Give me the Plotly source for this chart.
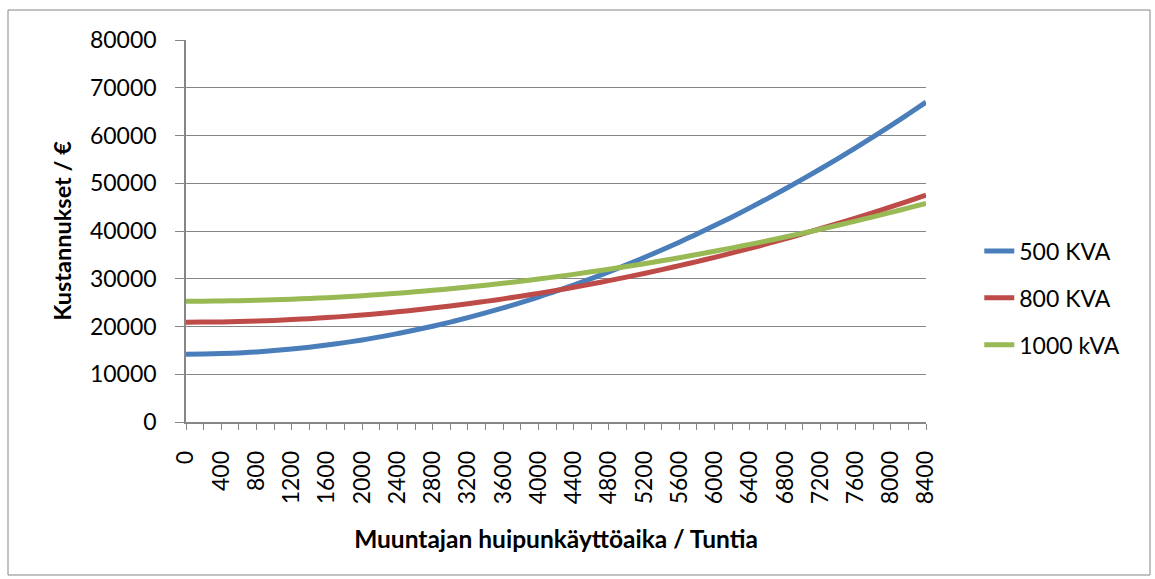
import plotly.graph_objects as go

hours = list(range(0, 8401, 200))

kva500 = [14200, 14230, 14320, 14470, 14680, 14950, 15280, 15670, 16110, 16620,
          17190, 17820, 18510, 19260, 20060, 20930, 21860, 22850, 23890, 25000,
          26170, 27390, 28680, 30030, 31430, 32900, 34430, 36010, 37660, 39360,
          41130, 42950, 44840, 46780, 48790, 50850, 52980, 55160, 57400, 59710,
          62070, 64500, 66980]
kva800 = [20900, 20920, 20960, 21040, 21140, 21280, 21440, 21640, 21870, 22120,
          22410, 22730, 23070, 23450, 23860, 24300, 24770, 25260, 25790, 26350,
          26940, 27560, 28210, 28890, 29600, 30340, 31110, 31910, 32740, 33600,
          34490, 35410, 36360, 37340, 38360, 39400, 40470, 41570, 42700, 43870,
          45060, 46280, 47540]
kva1000 = [25300, 25310, 25350, 25400, 25490, 25590, 25720, 25870, 26040, 26240,
           26460, 26710, 26970, 27260, 27580, 27910, 28270, 28660, 29060, 29490,
           29950, 30420, 30920, 31450, 31990, 32560, 33160, 33770, 34410, 35070,
           35760, 36470, 37200, 37950, 38730, 39530, 40360, 41210, 42080, 42970,
           43890, 44830, 45800]

series_names = ["500 KVA", "800 KVA", "1000 kVA"]
series_colors = ["#4A7EBB", "#BE4B48", "#98B954"]
x_tick_labels = [str(v) for v in range(0, 8401, 400)]

FONT = "Lato, 'Open Sans', sans-serif"
GRAY = "#868686"

fig = go.Figure()
for name, vals, col in zip(series_names, [kva500, kva800, kva1000], series_colors):
    fig.add_trace(go.Scatter(x=hours, y=vals, mode="lines", name=name,
                             legendgroup=name,
                             line=dict(color=col, width=5, shape="spline")))

fig.update_layout(
    width=1155, height=579,
    margin=dict(l=186, r=229, t=40, b=157),
    paper_bgcolor="white", plot_bgcolor="white",
    font=dict(family=FONT, size=23, color="black"),
    showlegend=True,
    legend=dict(x=1.072, y=(422 - 298) / 382, xanchor="left", yanchor="middle",
                font=dict(size=23), tracegroupgap=14, bgcolor="rgba(0,0,0,0)"),
    shapes=[dict(type="rect", xref="paper", yref="paper",
                 x0=(8 - 186) / 740, x1=(1150 - 186) / 740,
                 y0=(422 - 575) / 382, y1=(422 - 10) / 382,
                 line=dict(color=GRAY, width=1), fillcolor="rgba(0,0,0,0)")],
)

fig.update_xaxes(
    range=[0, 8400], tickmode="array",
    tickvals=list(range(0, 8401, 400)), ticktext=x_tick_labels,
    tickangle=-90, ticks="outside", ticklen=6, tickcolor=GRAY,
    minor=dict(dtick=200, tick0=0, ticks="outside", ticklen=6, tickcolor=GRAY, showgrid=False),
    showline=True, linecolor=GRAY, linewidth=1.5, showgrid=False, zeroline=False,
    ticklabelstandoff=12,
    title=dict(text="<b>Muuntajan huipunkäyttöaika / Tuntia</b>", font=dict(size=24.5), standoff=28),
)
fig.update_yaxes(
    range=[0, 80000], dtick=10000, tick0=0, tickformat="d",
    ticks="outside", ticklen=9, tickcolor=GRAY,
    showline=True, linecolor=GRAY, linewidth=1.5,
    showgrid=True, gridcolor=GRAY, gridwidth=1.2, zeroline=False,
    ticklabelstandoff=14,
    title=dict(text="<b>Kustannukset / €</b>", font=dict(size=23.5), standoff=12),
)

fig.write_html("out.html", config={"displayModeBar": False},
               post_script="document.body.style.margin='0';window.dispatchEvent(new Event('resize'));")
